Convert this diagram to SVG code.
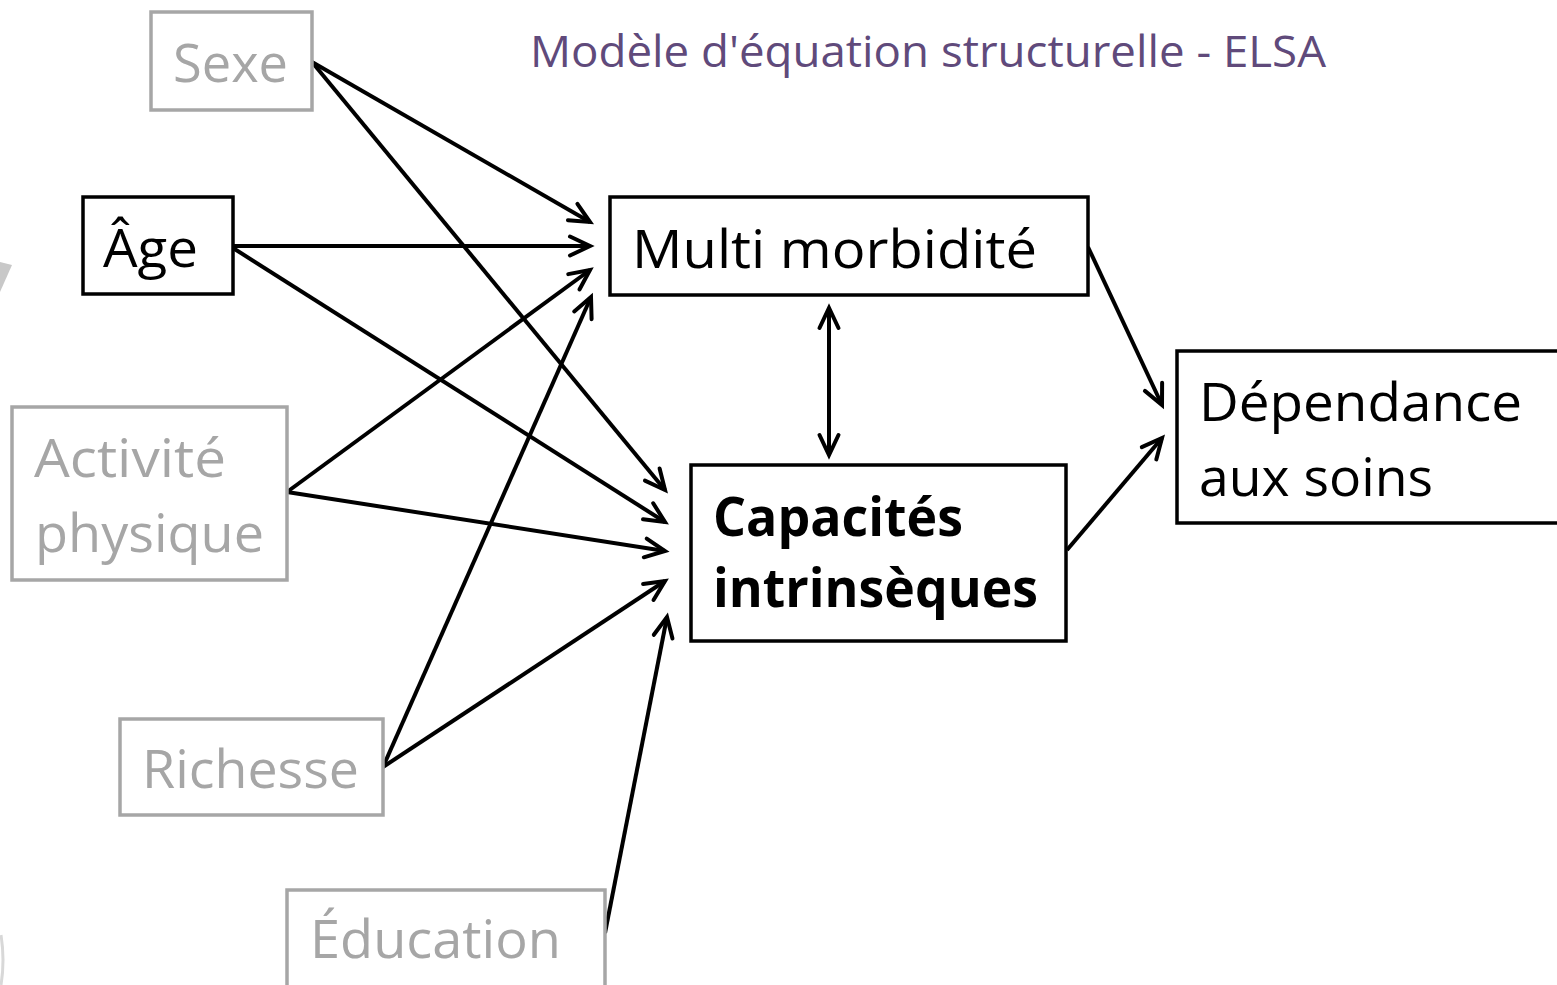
<svg xmlns="http://www.w3.org/2000/svg" width="1557" height="985" viewBox="0 0 1557 985">
<style>
.box{fill:#fff;stroke-width:3.5}
.gray{stroke:#a6a6a6}
.blk{stroke:#000}
.lbl{font-family:"Open Sans","Noto Sans","Liberation Sans",sans-serif;font-size:53px}
.gt{fill:#a6a6a6}
.bt{fill:#000}
.bold{font-weight:bold}
.edge{stroke:#000;stroke-width:4;fill:none}
</style>
<defs>
<marker id="arr" markerUnits="userSpaceOnUse" viewBox="-24 -14 28 28" markerWidth="28" markerHeight="28" refX="0" refY="0" orient="auto-start-reverse" overflow="visible">
<path d="M-20,-9.5 L0,0 L-20,9.5" fill="none" stroke="#000" stroke-width="4" stroke-linecap="round" stroke-linejoin="miter"/>
</marker>
</defs>
<rect width="1557" height="985" fill="#fff"/>
<polygon points="0,262 12,265 0,292" fill="#c8c8c8"/>
<path d="M1,935 Q5,960 1,985" stroke="#d8d8d8" stroke-width="3" fill="none"/>
<text x="530" y="67" font-family="Open Sans, Noto Sans, Liberation Sans, sans-serif" font-size="44" fill="#604a7b" textLength="796" lengthAdjust="spacingAndGlyphs">Modèle d'équation structurelle - ELSA</text>
<g id="connectors">
<line class="edge" x1="312" y1="62" x2="590" y2="222" marker-end="url(#arr)"/>
<line class="edge" x1="312" y1="62" x2="665" y2="490" marker-end="url(#arr)"/>
<line class="edge" x1="233" y1="246" x2="590" y2="246" marker-end="url(#arr)"/>
<line class="edge" x1="233" y1="248" x2="665" y2="522" marker-end="url(#arr)"/>
<line class="edge" x1="287" y1="492" x2="590" y2="270" marker-end="url(#arr)"/>
<line class="edge" x1="287" y1="492" x2="665" y2="551" marker-end="url(#arr)"/>
<line class="edge" x1="383" y1="767" x2="591" y2="297" marker-end="url(#arr)"/>
<line class="edge" x1="383" y1="767" x2="665" y2="581" marker-end="url(#arr)"/>
<line class="edge" x1="605" y1="933" x2="667" y2="617" marker-end="url(#arr)"/>
<line class="edge" x1="829" y1="308" x2="829" y2="455" marker-start="url(#arr)" marker-end="url(#arr)"/>
<line class="edge" x1="1088" y1="247" x2="1162" y2="405" marker-end="url(#arr)"/>
<line class="edge" x1="1067" y1="550" x2="1162" y2="438" marker-end="url(#arr)"/>
</g>
<g id="sexe">
<rect class="box gray" x="151" y="12" width="161" height="98"/>
<text class="lbl gt" x="173" y="82" textLength="115" lengthAdjust="spacingAndGlyphs">Sexe</text>
</g>
<g id="age">
<rect class="box blk" x="83" y="197" width="150" height="97"/>
<text class="lbl bt" x="103" y="267" textLength="95" lengthAdjust="spacingAndGlyphs">Âge</text>
</g>
<g id="activite">
<rect class="box gray" x="12" y="407" width="275" height="173"/>
<text class="lbl gt" x="34" y="477" textLength="192" lengthAdjust="spacingAndGlyphs">Activité</text>
<text class="lbl gt" x="35" y="552" textLength="229" lengthAdjust="spacingAndGlyphs">physique</text>
</g>
<g id="richesse">
<rect class="box gray" x="120" y="719" width="263" height="96"/>
<text class="lbl gt" x="142" y="788" textLength="217" lengthAdjust="spacingAndGlyphs">Richesse</text>
</g>
<g id="education">
<rect class="box gray" x="287" y="890" width="318" height="110"/>
<text class="lbl gt" x="310" y="958" textLength="251" lengthAdjust="spacingAndGlyphs">Éducation</text>
</g>
<g id="multimorbidite">
<rect class="box blk" x="610" y="197" width="478" height="98"/>
<text class="lbl bt" x="632" y="268" textLength="405" lengthAdjust="spacingAndGlyphs">Multi morbidité</text>
</g>
<g id="capacites">
<rect class="box blk" x="691" y="465" width="375" height="176" stroke-width="5"/>
<text class="lbl bt bold" x="713" y="536" textLength="250" lengthAdjust="spacingAndGlyphs">Capacités</text>
<text class="lbl bt bold" x="713" y="607" textLength="325" lengthAdjust="spacingAndGlyphs">intrinsèques</text>
</g>
<g id="dependance">
<rect class="box blk" x="1177" y="351" width="400" height="172"/>
<text class="lbl bt" x="1199" y="421" textLength="323" lengthAdjust="spacingAndGlyphs">Dépendance</text>
<text class="lbl bt" x="1199" y="496" textLength="234" lengthAdjust="spacingAndGlyphs">aux soins</text>
</g>
</svg>
